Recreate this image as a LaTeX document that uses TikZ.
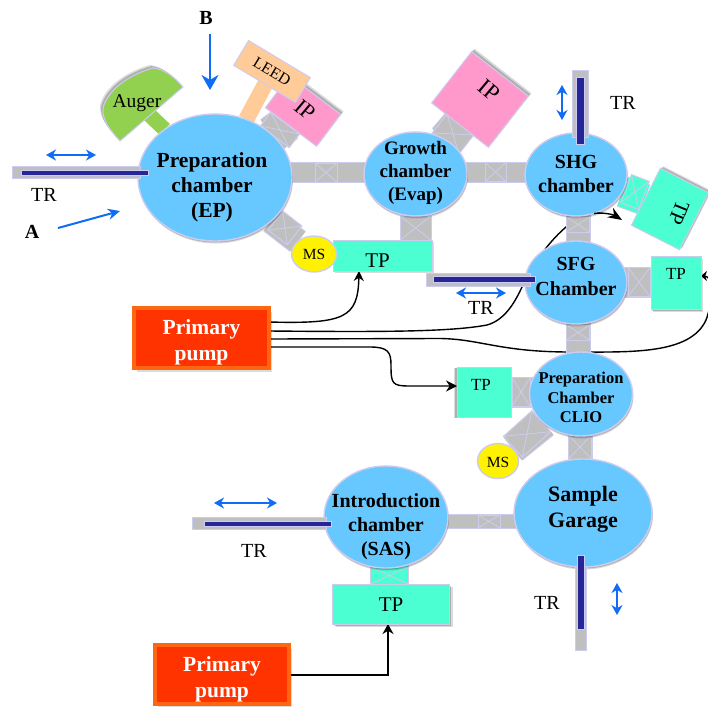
\documentclass[tikz,border=0pt]{standalone}
\usepackage{fontspec}
\setmainfont{Liberation Serif}
\usetikzlibrary{arrows.meta,shapes.geometric,shapes.misc,shadows,backgrounds}
\definecolor{lav}{HTML}{CCCCEE}
\definecolor{gb}{HTML}{BFBFBF}
\definecolor{cham}{HTML}{66C8FF}
\definecolor{tpc}{HTML}{4BFFD2}
\definecolor{ipc}{HTML}{FF99CC}
\definecolor{leedc}{HTML}{FFCC99}
\definecolor{augc}{HTML}{92D050}
\definecolor{navy2}{HTML}{262699}
\definecolor{pumpc}{HTML}{FF3300}
\definecolor{rimc}{HTML}{FF6611}
\definecolor{arrb}{HTML}{0F6CF5}
\tikzset{
  shad/.style 2 args={drop shadow={shadow xshift=#1,shadow yshift=#2,opacity=.14,fill=black},
    drop shadow={shadow xshift=0.6*#1,shadow yshift=0.6*#2,opacity=.2,fill=black}},
  chamber/.style={ellipse,draw=lav,line width=1.4pt,fill=cham,inner sep=0pt,outer sep=0pt,shad={1pt}{-2.5pt}},
  ctxt/.style={align=center,inner sep=0pt,text=black},
  boxn/.style={rectangle,draw=lav,line width=1pt,inner sep=0pt,outer sep=0pt},
  tpbox/.style={boxn,fill=tpc},
  msn/.style={ellipse,draw=lav,line width=1.4pt,fill=yellow,inner sep=0pt,outer sep=0pt},
  pumpn/.style={rectangle,draw=rimc,line width=4pt,fill=pumpc,inner sep=0pt,outer sep=0pt,shad={3pt}{-4pt}},
  ptxt/.style={align=center,inner sep=0pt,text=white},
  plain/.style={inner sep=0pt,text=black},
  mytube/.style={draw=lav,line width=1pt,double=gb,double distance=#1},
  tealtube/.style={draw=lav,line width=1pt,double=tpc,double distance=#1},
  vbox/.style={rectangle,draw=lav,line width=1pt,inner sep=0pt,outer sep=0pt},
  vx/.style={cross out,draw=lav,line width=.8pt,inner sep=0pt,outer sep=0pt},
  rod/.style={fill=gb,draw=lav,line width=1pt},
  bar/.style={fill=navy2,draw=lav,line width=1pt},
  pipe/.style={draw=black,line width=1.4pt},
  bluearr/.style={draw=arrb,line width=1.5pt},
  twohead/.style={bluearr,{Stealth[length=10pt,width=11pt]}-{Stealth[length=10pt,width=11pt]}},
  stem/.style={line width=#1}
}
\newcommand\vlv[6][gb]{%
  \node[vbox,fill=#1,minimum width=#5pt,minimum height=#6pt,rotate=#4] (#2) at (#3) {};
  \node[vx,minimum width=#5pt,minimum height=#6pt,rotate=#4] (#2x) at (#3) {};}
\newcommand\fs[2]{\fontsize{#1}{#2}\selectfont}
\begin{document}
\begin{tikzpicture}[x=1pt,y=-1pt]
\useasboundingbox (0,0) rectangle (708,706);

% chambers
\node[chamber,minimum width=154pt,minimum height=127pt,label={[ctxt,xshift=-3pt,yshift=-9.5pt,font=\bfseries\fs{21.5}{25}]center:Preparation\\chamber\\(EP)}] (ep) at (215,177.5) {};
\node[chamber,minimum width=103pt,minimum height=84pt,label={[ctxt,yshift=1pt,font=\bfseries\fs{19}{23}]center:Growth\\chamber\\(Evap)}] (gr) at (415.5,174) {};
\node[chamber,minimum width=102pt,minimum height=83pt,label={[ctxt,yshift=1pt,font=\bfseries\fs{20}{24}]center:SHG\\chamber}] (shg) at (576,174.5) {};
\node[chamber,minimum width=102pt,minimum height=83pt,label={[ctxt,yshift=6pt,font=\bfseries\fs{20}{25}]center:SFG\\Chamber}] (sfg) at (576,282.5) {};
\node[chamber,minimum width=103pt,minimum height=84pt,label={[ctxt,yshift=-3.5pt,font=\bfseries\fs{16.5}{19.5}]center:Preparation\\Chamber\\CLIO}] (clio) at (581,394) {};
\node[chamber,minimum width=138pt,minimum height=108pt,label={[ctxt,yshift=4pt,font=\bfseries\fs{22}{26}]center:Sample\\Garage}] (sg) at (583,513) {};
\node[chamber,minimum width=124pt,minimum height=102pt,label={[ctxt,yshift=-10pt,font=\bfseries\fs{20}{24}]center:Introduction\\chamber\\(SAS)}] (sas) at (386,517) {};

% pumps, turbo pumps, gauges
\node[pumpn,minimum width=135pt,minimum height=60pt,label={[ptxt,font=\bfseries\fs{21.5}{26},yshift=-4pt]center:Primary\\pump}] (pump1) at (201.5,338) {};
\node[pumpn,minimum width=134pt,minimum height=59pt,label={[ptxt,font=\bfseries\fs{21.5}{26},yshift=-5pt]center:Primary\\pump}] (pump2) at (222,674.5) {};
\node[tpbox,shad={2pt}{-2pt},minimum width=99pt,minimum height=31pt,label={[plain,font=\fs{21}{24},xshift=-5pt,yshift=-5pt]center:TP}] (tp1) at (382.5,255.5) {};
\node[tpbox,shad={2pt}{-3pt},minimum width=50pt,minimum height=53pt,label={[plain,font=\fs{17}{20},yshift=9pt]center:TP}] (tp2) at (676,282.5) {};
\node[tpbox,shad={-3pt}{-1pt},minimum width=54pt,minimum height=50pt,label={[plain,font=\fs{17}{20},yshift=7pt,xshift=-3pt]center:TP}] (tp3) at (484,392) {};
\node[tpbox,shad={3pt}{-3pt},minimum width=117pt,minimum height=40pt,label={[plain,font=\fs{21}{24},yshift=-1pt]center:TP}] (tp4) at (391,604) {};
\node[tpbox,shad={3pt}{2pt},minimum width=54pt,minimum height=64pt,rotate=-27,label={[plain,font=\fs{21}{24},xshift=9pt,yshift=-4pt,rotate=-112]center:TP}] (tp5) at (670,209) {};
\node[boxn,fill=ipc,shad={3pt}{3pt},minimum width=64pt,minimum height=40pt,rotate=-37,label={[plain,font=\fs{22}{24},xshift=2pt,yshift=1pt,rotate=-40]center:IP}] (ip1) at (303,111) {};
\node[boxn,fill=ipc,shad={3pt}{3pt},minimum width=72pt,minimum height=65pt,rotate=-38,label={[plain,font=\fs{23}{25},xshift=9pt,yshift=9.5pt,rotate=-40]center:IP}] (ip2) at (480,99.5) {};
\node[boxn,fill=leedc,minimum width=72pt,minimum height=29pt,rotate=-31,label={[plain,font=\fs{16}{18},rotate=-31]center:LEED}] (leed) at (272,71.5) {};
\node[msn,minimum width=45pt,minimum height=36pt,label={[plain,font=\fs{15.5}{18}]center:MS}] (ms1) at (314,254) {};
\node[msn,minimum width=41pt,minimum height=35pt,label={[plain,font=\fs{15.5}{18},yshift=-1pt]center:MS}] (ms2) at (498,461) {};
\coordinate (tip5) at (622,220);

% Auger head
\draw[fill=augc,draw=lav,line width=1pt,shad={-3pt}{3pt}] (183,87) .. controls (172,74) and (162,69) .. (153,68) .. controls (128,75) and (108,90) .. (103,108) .. controls (102,120) and (110,130) .. (120,141) -- cycle;
\node[plain,font=\fs{19.5}{22}] (auger) at (137,103) {Auger};

\begin{pgfonlayer}{background}
  \fill[white] (0,0) rectangle (708,706);
  % pumping lines
  \draw[pipe,-{Stealth[length=10pt,width=10pt]}] (pump1.east |- 0,322) .. controls (345,324) and (358,318) .. (tp1.south -| 359,0);
  \draw[pipe] (pump1.east |- 0,331) .. controls (380,332) and (450,332) .. (487,325) .. controls (505,320) and (515,302) .. (522,287) .. controls (530,270) and (545,245) .. (566,227) .. controls (575,217) and (590,212) .. (600,213);
  \draw[pipe,-{Stealth[length=6pt,width=10pt]}] (pump1.east |- 0,339) -- (440,338.5) .. controls (480,339) and (500,352) .. (570,352) .. controls (630,352) and (690,355) .. (706,320) .. controls (712,305) and (714,276) .. (tp2.east |- 0,276);
  \draw[pipe,-{Stealth[length=11pt,width=11pt]}] (pump1.east |- 0,347) -- (370,347) .. controls (388,347) and (391,352) .. (391,365) .. controls (391,384) and (392,386) .. (410,386) -- (tp3.west |- 0,386);
  \draw[line width=2pt,-{Stealth[length=10pt,width=11pt]}] (pump2.east |- 0,675) -| (tp4.south -| 388,0);

  % stems
  \draw[stem=15pt,augc] (ep) -- (auger);
  \draw[stem=16pt,leedc] (ep) -- (leed);

  % tubes between chambers
  \draw[mytube=19pt] (ep.center |- 0,172.5) -- (gr.center |- 0,172.5);
  \draw[mytube=19pt] (gr.center |- 0,172) -- (shg.center |- 0,172);
  \draw[mytube=23pt] (shg.center -| 578,0) -- (sfg.center -| 578,0);
  \draw[mytube=23pt] (sfg.center -| 578,0) -- (clio.center -| 578,0);
  \draw[mytube=23pt] (clio.center -| 580,0) -- (sg.center -| 580,0);
  \draw[mytube=13pt] (sas.center |- 0,521.5) -- (sg.center |- 0,521.5);
  \draw[mytube=24pt] (ep) -- (ms1);
  \draw[mytube=36pt] (ep) -- (ip1);
  \draw[mytube=33pt] (gr) -- (ip2);
  \draw[mytube=28pt] (clio) -- (ms2);
  \draw[mytube=29pt] (clio.center |- 0,392) -- (tp3.center |- 0,392);
  \draw[mytube=29pt] (sfg.center |- 0,282) -- (tp2.center |- 0,282);
  \draw[mytube=30pt] (gr) -- (gr |- tp1.north);
  \draw[tealtube=30pt] (shg) -- (tp5);
  \draw[tealtube=37pt] (sas.center -| 389,0) -- (tp4.north -| 389,0);

  % valves
  \vlv{v1}{326,172.5}{0}{22}{19}
  \vlv{v2}{495.5,172}{0}{21}{19}
  \vlv{v3}{578,224.5}{0}{23}{15}
  \vlv{v4}{578,332.5}{0}{23}{15}
  \vlv{v5}{580,447}{0}{23}{24}
  \vlv{v6}{489,521.5}{0}{22}{13}
  \vlv{v7}{285,228}{-38}{24}{24}
  \vlv{v8}{280,130}{-37}{36}{17}
  \vlv{v9}{453,134}{-38}{34}{24}
  \vlv{v10}{527,434}{42}{38}{28}
  \vlv{v11}{521,392}{0}{18}{29}
  \vlv{v12}{639,282}{0}{22}{29}
  \vlv{v13}{415.5,228}{0}{31}{24}
  \vlv[tpc]{v14}{635,192}{-21}{19}{30}
  \vlv[tpc]{v15}{389.5,575.5}{0}{38}{17}
\end{pgfonlayer}

% end of the line to the tilted pump, above the chamber edge
\draw[pipe,-{Stealth[length=14pt,width=11pt]}] (594,213.5) .. controls (604,212) and (614,215) .. (tip5);

% transfer rods
\draw[rod] (12,166) rectangle (140,178);
\draw[bar] (21,170) rectangle (148,175.5);
\draw[rod] (572,71) rectangle (588,137);
\draw[bar] (576,78) rectangle (584,144);
\draw[rod] (426,273) rectangle (530,286);
\draw[bar] (433,276.5) rectangle (535,282);
\draw[rod] (192,517) rectangle (326,529);
\draw[bar] (204,521) rectangle (331,526.5);
\draw[rod] (575,566) rectangle (586,650);
\draw[bar] (577,555) rectangle (584,629);

% motion arrows
\draw[twohead] (46,155) -- (96,155);
\draw[twohead] (456,293) -- (506,293);
\draw[twohead] (214,503) -- (277,503);
\draw[twohead] (562,85) -- (562,120);
\draw[twohead] (617,583) -- (617,615);
\draw[bluearr,line width=2pt,-{Stealth[length=12pt,width=11pt]}] (58,228) -- (120,211);
\draw[bluearr,line width=2pt,-{Stealth[length=15pt,width=17pt]}] (210,34) -- (210,90);

% labels
\node[plain,font=\fs{20}{22}] (trl1) at (44,195) {TR};
\node[plain,font=\fs{20}{22}] (trl2) at (623,103) {TR};
\node[plain,font=\fs{20}{22}] (trl3) at (481,308) {TR};
\node[plain,font=\fs{20}{22}] (trl4) at (254,551) {TR};
\node[plain,font=\fs{20}{22}] (trl5) at (547,603) {TR};
\node[plain,font=\bfseries\fs{20}{22}] (la) at (32,232) {A};
\node[plain,font=\bfseries\fs{20}{22}] (lb) at (206,18) {B};
\end{tikzpicture}
\end{document}
